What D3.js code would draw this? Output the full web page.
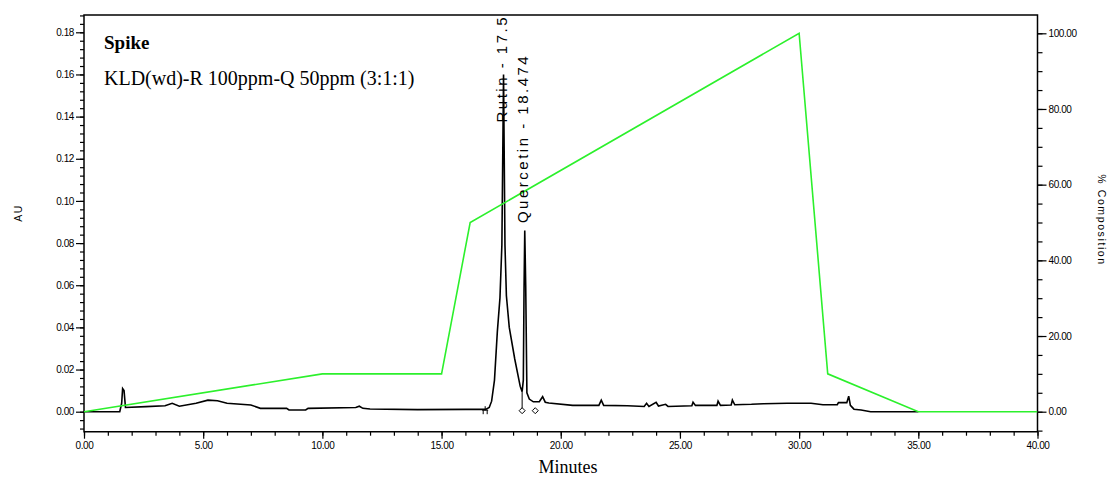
<!DOCTYPE html>
<html>
<head>
<meta charset="utf-8">
<style>
  body { margin: 0; background: #fff; }
  svg { display: block; }
  .tick text { font-family: "Liberation Sans", Arial, sans-serif; font-size: 10px; letter-spacing: -0.4px; }
</style>
</head>
<body>
<div id="chart"></div>
<script src="https://cdn.jsdelivr.net/npm/d3@7/dist/d3.min.js"></script>
<script>
// detector trace (minutes, AU)
const traceMin = [0, 1.5, 1.58, 1.62, 1.68, 1.74, 2.6, 3.4, 3.7, 4.0, 4.7, 5.2, 5.6, 6.0, 7.0, 7.4, 8.5, 8.6, 9.3, 9.4,
  11.4, 11.55, 11.7, 12.0, 14.0, 16.0, 16.85, 17.0, 17.1, 17.22, 17.34, 17.45, 17.53, 17.6, 17.66, 17.72, 17.84, 18.07,
  18.3, 18.38, 18.43, 18.46, 18.49, 18.53, 18.58, 18.68, 18.85, 19.1, 19.24, 19.35, 19.5, 20.5, 21.6, 21.7, 21.8,
  22.8, 23.5, 23.6, 23.7, 24.0, 24.1, 24.4, 24.5, 25.5, 25.55, 25.65, 26.55, 26.6, 26.7, 27.15, 27.2, 27.3, 28.0,
  28.5, 29.5, 30.5, 31.0, 31.6, 31.65, 32.0, 32.08, 32.15, 32.3, 32.6, 33.0, 35.0];
const traceAU = [0, 0, 0.004, 0.011, 0.010, 0.002, 0.0024, 0.0028, 0.004, 0.0026, 0.004, 0.0055, 0.0052, 0.004, 0.0032, 0.0016, 0.0016, 0.0008, 0.0008, 0.0016,
  0.002, 0.0026, 0.0016, 0.0013, 0.001, 0.0011, 0.0011, 0.002, 0.005, 0.015, 0.038, 0.054, 0.079, 0.160, 0.079, 0.055, 0.040, 0.025,
  0.012, 0.0095, 0.015, 0.058, 0.086, 0.060, 0.009, 0.006, 0.0047, 0.0047, 0.0071, 0.0045, 0.0041, 0.003, 0.003, 0.0055, 0.003,
  0.0028, 0.0025, 0.004, 0.0025, 0.0045, 0.0027, 0.0035, 0.0025, 0.0028, 0.0045, 0.003, 0.003, 0.005, 0.003, 0.0032, 0.0055, 0.0033, 0.0035,
  0.0038, 0.004, 0.004, 0.0033, 0.0033, 0.0043, 0.0043, 0.0074, 0.003, 0.0012, 0.0008, 0, 0];

// gradient program (minutes, % composition)
const gradMin = [0, 10, 15, 16.2, 30, 31.2, 35, 40];
const gradPct = [0, 10, 10, 50, 100, 10, 0, 0];

// peak labels
const peakNames = ["Rutin - 17.5", "Quercetin - 18.474"];
const peakLabelMin = [17.73, 18.62];
const peakLabelAU = [0.1372, 0.0895];

// integration marks
const dropMin = 18.38, dropAU = 0.0095;
const diamondMin = [18.38, 18.93];
const startMarkMin = 16.83;

const leftTicks = d3.range(0, 0.181, 0.02);
const rightTicks = d3.range(0, 100.1, 20);
const xTicks = d3.range(0, 40.1, 5);

const W = 1111, H = 478;
const L = 84, R = 1037.5, T = 15, B = 431.7;

const svg = d3.select("#chart").append("svg").attr("width", W).attr("height", H);

const x = d3.scaleLinear().domain([0, 40]).range([L, R]);
const yL = d3.scaleLinear().domain([0, 0.18]).range([411.7, 32.3]);
const yR = d3.scaleLinear().domain([0, 100]).range([411.7, 33.3]);

svg.append("defs").append("clipPath").attr("id", "plot")
  .append("rect").attr("x", L).attr("y", T).attr("width", R - L).attr("height", B - T);

function styleAxis(g) {
  g.select(".domain").remove();
  g.selectAll(".tick line").attr("stroke", "#000").attr("stroke-width", 1.2);
  g.selectAll(".tick text").attr("fill", "#000");
}

// minor ticks
svg.append("g").attr("transform", `translate(${L},0)`)
  .call(d3.axisLeft(yL).tickValues(d3.range(-0.008, 0.189, 0.004)).tickSize(4).tickFormat(""))
  .call(styleAxis);
svg.append("g").attr("transform", `translate(${R},0)`)
  .call(d3.axisRight(yR).tickValues(d3.range(-5, 101, 5)).tickSize(5).tickFormat(""))
  .call(styleAxis);
svg.append("g").attr("transform", `translate(0,${B})`)
  .call(d3.axisBottom(x).tickValues(d3.range(0, 40.1, 1)).tickSize(4).tickFormat(""))
  .call(styleAxis);

// major ticks
svg.append("g").attr("transform", `translate(${L},0)`)
  .call(d3.axisLeft(yL).tickValues(leftTicks).tickSize(8).tickPadding(2).tickFormat(d3.format(".2f")))
  .call(styleAxis);
svg.append("g").attr("transform", `translate(${R},0)`)
  .call(d3.axisRight(yR).tickValues(rightTicks).tickSize(9).tickPadding(2).tickFormat(d3.format(".2f")))
  .call(styleAxis);
svg.append("g").attr("transform", `translate(0,${B})`)
  .call(d3.axisBottom(x).tickValues(xTicks).tickSize(7).tickPadding(3).tickFormat(d3.format(".2f")))
  .call(styleAxis);

// frame
svg.append("path")
  .attr("d", `M${L},${B}V${T}H${R}V${B}Z`)
  .attr("fill", "none").attr("stroke", "#000").attr("stroke-width", 1.5);

const plot = svg.append("g").attr("clip-path", "url(#plot)");

const trace = traceMin.map((m, i) => [m, traceAU[i]]);
plot.append("path")
  .datum(trace)
  .attr("d", d3.line().x(d => x(d[0])).y(d => yL(d[1])))
  .attr("fill", "none").attr("stroke", "#000").attr("stroke-width", 1.6);

// integration marks
plot.append("line")
  .attr("x1", x(dropMin)).attr("x2", x(dropMin))
  .attr("y1", yL(dropAU)).attr("y2", yL(0) + 1)
  .attr("stroke", "#000").attr("stroke-width", 1);
plot.selectAll(".dia").data(diamondMin).enter().append("path")
  .attr("d", d => {
    const cx = x(d), cy = yL(0) - 1;
    return `M${cx - 3},${cy}L${cx},${cy - 3}L${cx + 3},${cy}L${cx},${cy + 3}Z`;
  })
  .attr("fill", "#fff").attr("stroke", "#000").attr("stroke-width", 1);
plot.append("path")
  .attr("d", () => {
    const cx = x(startMarkMin), cy = yL(0) - 1.5;
    return `M${cx - 3},${cy}H${cx + 3}M${cx - 2},${cy}V${cy + 4}M${cx + 2},${cy}V${cy + 4}M${cx},${cy}V${cy - 4}`;
  })
  .attr("fill", "none").attr("stroke", "#000").attr("stroke-width", 1);

// gradient
const grad = gradMin.map((m, i) => [m, gradPct[i]]);
plot.append("path")
  .datum(grad)
  .attr("d", d3.line().x(d => x(d[0])).y(d => yR(d[1])))
  .attr("fill", "none").attr("stroke", "#2cf02c").attr("stroke-width", 1.6);

// peak labels
plot.selectAll(".peak").data(peakNames).enter().append("text")
  .attr("transform", (d, i) => `translate(${x(peakLabelMin[i])},${yL(peakLabelAU[i])}) rotate(-90)`)
  .attr("font-family", "Liberation Sans, Arial, sans-serif")
  .attr("font-size", 15).attr("letter-spacing", 2.5)
  .attr("fill", "#000")
  .text(d => d);

// titles
svg.append("text").attr("x", 104).attr("y", 49)
  .attr("font-family", "Liberation Serif, Times New Roman, serif")
  .attr("font-size", 19).attr("font-weight", "bold").text("Spike");
svg.append("text").attr("x", 104).attr("y", 85)
  .attr("font-family", "Liberation Serif, Times New Roman, serif")
  .attr("font-size", 20).text("KLD(wd)-R 100ppm-Q 50ppm (3:1:1)");

svg.append("text").attr("x", 568).attr("y", 473).attr("text-anchor", "middle")
  .attr("font-family", "Liberation Serif, Times New Roman, serif")
  .attr("font-size", 18).text("Minutes");

svg.append("text").attr("transform", "translate(22,213) rotate(-90)").attr("text-anchor", "middle")
  .attr("font-family", "Liberation Sans, Arial, sans-serif")
  .attr("font-size", 10.5).attr("letter-spacing", 1.5).text("AU");
svg.append("text").attr("transform", "translate(1098,220) rotate(90)").attr("text-anchor", "middle")
  .attr("font-family", "Liberation Sans, Arial, sans-serif")
  .attr("font-size", 10.5).attr("letter-spacing", 1.6).text("% Composition");
</script>
</body>
</html>
